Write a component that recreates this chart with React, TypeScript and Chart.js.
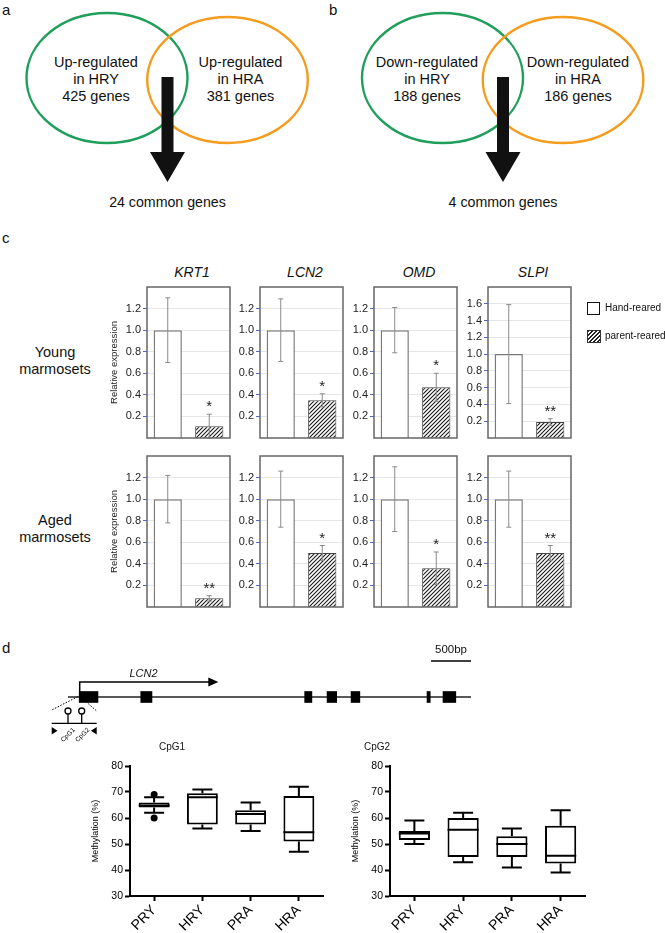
import React, { useEffect, useRef } from 'react';
import { Chart, registerables } from 'chart.js';

Chart.register(...registerables);

const FONT = '"Liberation Sans", Arial, Helvetica, sans-serif';
Chart.defaults.font.family = FONT;

// ---------- Panel a / b (Venn) ----------
const upCounts = [425, 381];
const upCommon = 24;
const downCounts = [188, 186];
const downCommon = 4;

// ---------- Panel c (qPCR relative expression) ----------
const genes = ['KRT1', 'LCN2', 'OMD', 'SLPI'];
const groups = ['Hand-reared', 'parent-reared'];
const rowLabels = [['Young', 'marmosets'], ['Aged', 'marmosets']];

const youngHand = [1.0, 1.0, 1.0, 1.0];
const youngHandErr = [0.3, 0.29, 0.21, 0.59];
const youngParent = [0.11, 0.35, 0.47, 0.19];
const youngParentErr = [0.11, 0.06, 0.13, 0.04];
const youngStars = ['*', '*', '*', '**'];
const youngMax = [1.4, 1.4, 1.4, 1.8];

const agedHand = [1.0, 1.0, 1.0, 1.0];
const agedHandErr = [0.22, 0.26, 0.3, 0.26];
const agedParent = [0.08, 0.5, 0.36, 0.5];
const agedParentErr = [0.025, 0.07, 0.15, 0.07];
const agedStars = ['**', '*', '*', '**'];
const agedMax = [1.4, 1.4, 1.4, 1.4];

// ---------- Panel d (LCN2 gene + methylation) ----------
const geneLengthBp = 5040;
const exonStart = [140, 910, 2960, 3240, 3540, 4490, 4690];
const exonEnd = [375, 1050, 3050, 3360, 3650, 4530, 4850];
const tssBp = 140;
const transcriptEndBp = 1880;
const scaleBarBp = [4540, 5040];

const boxCats = ['PRY', 'HRY', 'PRA', 'HRA'];
const cpg1Min = [62, 56, 55, 47];
const cpg1Q1 = [64, 57.5, 57.5, 51];
const cpg1Med = [64.8, 68, 61.5, 54.5];
const cpg1Q3 = [66, 69.5, 63, 68.5];
const cpg1Max = [68, 71, 66, 72];
const cpg1OutHigh = [69, null, null, null];
const cpg1OutLow = [60, null, null, null];

const cpg2Min = [50, 43, 41, 39];
const cpg2Q1 = [51.5, 45, 45, 42.5];
const cpg2Med = [54, 55.5, 50, 45.5];
const cpg2Q3 = [55, 60, 53, 57];
const cpg2Max = [59, 62, 56, 63];

// ---------- helpers ----------
function makeHatch(): CanvasPattern | string {
  const c = document.createElement('canvas');
  c.width = 4;
  c.height = 4;
  const g = c.getContext('2d');
  if (!g) return '#777';
  g.fillStyle = '#fff';
  g.fillRect(0, 0, 4, 4);
  g.strokeStyle = '#1a1a1a';
  g.lineWidth = 1.1;
  g.beginPath();
  g.moveTo(0, 4); g.lineTo(4, 0);
  g.moveTo(-1, 1); g.lineTo(1, -1);
  g.moveTo(3, 5); g.lineTo(5, 3);
  g.stroke();
  return g.createPattern(c, 'repeat') || '#777';
}

function ChartCanvas({ left, top, width, height, make }: any) {
  const ref = useRef<HTMLCanvasElement>(null);
  useEffect(() => {
    const chart = new Chart(ref.current as HTMLCanvasElement, make());
    return () => chart.destroy();
  }, []);
  return (
    <canvas
      ref={ref}
      width={width}
      height={height}
      style={{ position: 'absolute', left, top, width, height }}
    />
  );
}

function T({ x, y, s = 14, children, italic, anchor = 'middle', color = '#111', rotate }: any) {
  const tx = anchor === 'middle' ? '-50%' : anchor === 'end' ? '-100%' : '0';
  return (
    <div
      style={{
        position: 'absolute',
        left: x,
        top: y,
        fontSize: s,
        lineHeight: 1,
        whiteSpace: 'nowrap',
        fontStyle: italic ? 'italic' : 'normal',
        color,
        transform: `translate(${tx},-50%)${rotate ? ` rotate(${rotate}deg)` : ''}`,
      }}
    >
      {children}
    </div>
  );
}

// ---------- bar panel ----------
const panelPlugin = {
  id: 'panelDecor',
  afterDatasetsDraw(chart: any, _args: any, opts: any) {
    const { ctx, chartArea: a, scales } = chart;
    const y = scales.y;
    const meta = chart.getDatasetMeta(0);
    const vals = chart.data.datasets[0].data as number[];
    ctx.save();
    let starTop = 0;
    meta.data.forEach((bar: any, i: number) => {
      const v = vals[i];
      const e = opts.errors[i];
      const yt = y.getPixelForValue(v + e);
      const yb = y.getPixelForValue(Math.max(0, v - e));
      ctx.strokeStyle = '#8a8a8a';
      ctx.lineWidth = 1;
      ctx.beginPath();
      ctx.moveTo(bar.x, yt); ctx.lineTo(bar.x, yb);
      ctx.moveTo(bar.x - 2.5, yt); ctx.lineTo(bar.x + 2.5, yt);
      ctx.moveTo(bar.x - 2.5, yb); ctx.lineTo(bar.x + 2.5, yb);
      ctx.stroke();
      if (i === 1) starTop = yt;
    });
    const b1 = meta.data[1];
    ctx.fillStyle = '#222';
    ctx.font = `15px ${FONT}`;
    ctx.textAlign = 'center';
    ctx.textBaseline = 'alphabetic';
    ctx.fillText(opts.star, b1.x, starTop - 3);
    ctx.strokeStyle = '#666';
    ctx.lineWidth = 1.5;
    ctx.strokeRect(a.left, a.top, a.right - a.left, a.bottom - a.top);
    ctx.restore();
  },
};

function barConfig(gi: number, hand: number[], handErr: number[], parent: number[], parentErr: number[], stars: string[], maxes: number[]) {
  return () => {
    const max = maxes[gi];
    const withTitle = gi === 0;
    return {
      type: 'bar',
      data: {
        labels: groups,
        datasets: [
          {
            data: [hand[gi], parent[gi]],
            backgroundColor: ['#ffffff', makeHatch()],
            borderColor: ['#7a7a7a', '#444'],
            borderWidth: [1.5, 1],
            categoryPercentage: 1,
            barPercentage: 0.68,
          },
        ],
      },
      options: {
        animation: false,
        responsive: false,
        devicePixelRatio: 1,
        layout: { padding: { top: 10, bottom: 10, right: 6, left: 0 } },
        plugins: {
          legend: { display: false },
          tooltip: { enabled: false },
          panelDecor: { errors: [handErr[gi], parentErr[gi]], star: stars[gi] },
        },
        scales: {
          x: { display: false, offset: true },
          y: {
            min: 0,
            max,
            ticks: {
              stepSize: 0.2,
              padding: 2,
              color: '#222',
              font: { size: 11, family: FONT },
              callback: (v: any) => Number(v).toFixed(1),
            },
            grid: { color: '#e6e6e6', tickLength: 4, tickColor: '#5566cc', lineWidth: 1 },
            border: { display: false },
            afterBuildTicks: (s: any) => {
              s.ticks = s.ticks.filter((t: any) => t.value > 0.05 && t.value < max - 0.05);
            },
            afterFit: (s: any) => {
              s.width = withTitle ? 42 : 30;
            },
            title: withTitle
              ? {
                  display: true,
                  text: 'Relative expression',
                  color: '#222',
                  font: { size: 9.5, family: FONT },
                  padding: { top: 4, bottom: 0 },
                }
              : { display: false },
          },
        },
      },
      plugins: [panelPlugin],
    };
  };
}

// ---------- box plot ----------
const boxPlugin = {
  id: 'boxDecor',
  afterDatasetsDraw(chart: any, _args: any, opts: any) {
    const { ctx, scales } = chart;
    const y = scales.y;
    const meta = chart.getDatasetMeta(0);
    ctx.save();
    ctx.strokeStyle = '#000';
    ctx.lineWidth = 2;
    meta.data.forEach((bar: any, i: number) => {
      const x = bar.x;
      const hw = bar.width / 2;
      const cw = 10;
      const yMin = y.getPixelForValue(opts.min[i]);
      const yMax = y.getPixelForValue(opts.max[i]);
      const yQ1 = y.getPixelForValue(opts.q1[i]);
      const yQ3 = y.getPixelForValue(opts.q3[i]);
      const yMed = y.getPixelForValue(opts.med[i]);
      ctx.beginPath();
      ctx.moveTo(x, yQ3); ctx.lineTo(x, yMax);
      ctx.moveTo(x - cw, yMax); ctx.lineTo(x + cw, yMax);
      ctx.moveTo(x, yQ1); ctx.lineTo(x, yMin);
      ctx.moveTo(x - cw, yMin); ctx.lineTo(x + cw, yMin);
      ctx.moveTo(x - hw, yMed); ctx.lineTo(x + hw, yMed);
      ctx.stroke();
    });
    ctx.restore();
  },
};

function boxConfig(min: number[], q1: number[], med: number[], q3: number[], max: number[], outliers: (number | null)[][]) {
  return () => ({
    type: 'bar',
    data: {
      labels: boxCats,
      datasets: [
        {
          data: q1.map((v, i) => [v, q3[i]]),
          backgroundColor: '#ffffff',
          borderColor: '#000',
          borderWidth: 2,
          borderSkipped: false,
          categoryPercentage: 1,
          barPercentage: 0.64,
        },
        ...outliers.map((o) => ({
          type: 'line',
          data: o,
          showLine: false,
          pointRadius: 3.5,
          pointBackgroundColor: '#000',
          pointBorderWidth: 0,
        })),
      ],
    },
    options: {
      animation: false,
      responsive: false,
      devicePixelRatio: 1,
      layout: { padding: { top: 10, bottom: 0, right: 10, left: 0 } },
      plugins: {
        legend: { display: false },
        tooltip: { enabled: false },
        boxDecor: { min, q1, med, q3, max },
      },
      scales: {
        x: {
          offset: true,
          grid: { offset: false, drawOnChartArea: false, tickLength: 5, tickColor: '#000', tickWidth: 2 },
          border: { color: '#000', width: 2 },
          ticks: {
            autoSkip: false,
            maxRotation: 45,
            minRotation: 45,
            padding: 1,
            color: '#000',
            font: { size: 14, family: FONT },
          },
          afterFit: (s: any) => {
            s.height = 36;
          },
        },
        y: {
          min: 30,
          max: 80,
          ticks: { stepSize: 10, padding: 2, color: '#000', font: { size: 10.5, family: FONT } },
          grid: { drawOnChartArea: false, tickLength: 5, tickColor: '#000', tickWidth: 2 },
          border: { color: '#000', width: 2 },
          title: {
            display: true,
            text: 'Methylation (%)',
            color: '#000',
            font: { size: 9, family: FONT },
            padding: { top: 2, bottom: 0 },
          },
          afterFit: (s: any) => {
            s.width = 42;
          },
        },
      },
    },
    plugins: [boxPlugin],
  });
}

// ---------- gene diagram ----------
const genePlugin = {
  id: 'geneDecor',
  beforeDatasetsDraw(chart: any) {
    const { ctx, chartArea: a, scales } = chart;
    const x = scales.x;
    const px = (bp: number) => x.getPixelForValue(bp);
    const yc = (a.top + a.bottom) / 2;
    ctx.save();
    ctx.strokeStyle = '#222';
    ctx.fillStyle = '#000';
    ctx.lineWidth = 1.5;
    // gene body
    ctx.beginPath();
    ctx.moveTo(px(0), yc);
    ctx.lineTo(px(geneLengthBp), yc);
    ctx.stroke();
    // transcription start arrow
    const ty = yc - 15;
    ctx.strokeStyle = '#000';
    ctx.beginPath();
    ctx.moveTo(px(tssBp) + 0.5, yc - 5);
    ctx.lineTo(px(tssBp) + 0.5, ty);
    ctx.lineTo(px(transcriptEndBp) - 8, ty);
    ctx.stroke();
    ctx.beginPath();
    ctx.moveTo(px(transcriptEndBp), ty);
    ctx.lineTo(px(transcriptEndBp) - 10, ty - 4.5);
    ctx.lineTo(px(transcriptEndBp) - 10, ty + 4.5);
    ctx.closePath();
    ctx.fill();
    // scale bar
    ctx.beginPath();
    ctx.moveTo(px(scaleBarBp[0]), 23);
    ctx.lineTo(px(scaleBarBp[1]), 23);
    ctx.stroke();
    // inset (promoter region enlarged)
    ctx.lineWidth = 1;
    ctx.setLineDash([1.5, 1.5]);
    ctx.beginPath();
    ctx.moveTo(37.7, 58.7); ctx.lineTo(11.7, 72);
    ctx.moveTo(46, 63.7); ctx.lineTo(56.7, 73);
    ctx.stroke();
    ctx.setLineDash([]);
    ctx.lineWidth = 1.3;
    ctx.beginPath();
    ctx.moveTo(11.7, 85.3); ctx.lineTo(56.7, 85.3);
    ctx.moveTo(28, 76); ctx.lineTo(28, 85.3);
    ctx.moveTo(41.7, 76); ctx.lineTo(41.7, 85.3);
    ctx.stroke();
    ctx.fillStyle = '#fff';
    [28, 41.7].forEach((cx) => {
      ctx.beginPath();
      ctx.arc(cx, 73, 3, 0, Math.PI * 2);
      ctx.fill();
      ctx.stroke();
    });
    ctx.fillStyle = '#000';
    ctx.beginPath();
    ctx.moveTo(11.7, 89); ctx.lineTo(11.7, 96.5); ctx.lineTo(17.5, 92.8); ctx.closePath();
    ctx.moveTo(56.7, 89); ctx.lineTo(56.7, 96.5); ctx.lineTo(50.9, 92.8); ctx.closePath();
    ctx.fill();
    ctx.font = `6.5px ${FONT}`;
    ctx.textAlign = 'center';
    ctx.textBaseline = 'middle';
    [['CpG1', 28], ['CpG2', 42.5]].forEach(([t, cx]: any) => {
      ctx.save();
      ctx.translate(cx, 97);
      ctx.rotate(-Math.PI / 4);
      ctx.fillText(t, 0, 0);
      ctx.restore();
    });
    ctx.restore();
  },
};

function geneConfig() {
  return {
    type: 'bar',
    data: {
      labels: ['LCN2'],
      datasets: exonStart.map((s, i) => ({
        data: [[s, exonEnd[i]]],
        backgroundColor: '#000',
        borderWidth: 0,
        barThickness: 11,
        grouped: false,
      })),
    },
    options: {
      indexAxis: 'y',
      animation: false,
      responsive: false,
      devicePixelRatio: 1,
      layout: { padding: { top: 49, bottom: 43, left: 28, right: 9 } },
      plugins: { legend: { display: false }, tooltip: { enabled: false } },
      scales: {
        x: { type: 'linear', min: 0, max: geneLengthBp, display: false },
        y: { display: false },
      },
    },
    plugins: [genePlugin],
  };
}

// ---------- Venn ----------
function Venn({ dx, title, counts, common }: any) {
  const gx = 107 + dx;
  const ox = 227.5 + dx;
  const ax = 167.5 + dx;
  const word = title === 'up' ? 'Up-regulated' : 'Down-regulated';
  const lx = title === 'up' ? 96 : 427;
  const rx = title === 'up' ? 240.5 : 578;
  return (
    <>
      <svg style={{ position: 'absolute', left: 0, top: 0 }} width={665} height={190}>
        <ellipse cx={gx} cy={78} rx={80.5} ry={65} fill="none" stroke="#1f9f5b" strokeWidth={2.4} />
        <ellipse cx={ox} cy={80} rx={80.3} ry={63} fill="none" stroke="#f39c1e" strokeWidth={2.4} />
        <polygon
          points={`${ax - 6},77 ${ax + 6},77 ${ax + 6},152 ${ax + 17.5},152 ${ax},182 ${ax - 17.5},152 ${ax - 6},152`}
          fill="#111"
        />
      </svg>
      <T x={lx} y={61.7} s={14.5}>{word}</T>
      <T x={lx} y={79} s={14.5}>in HRY</T>
      <T x={lx} y={95.5} s={14.5}>{counts[0]} genes</T>
      <T x={rx} y={61.7} s={14.5}>{word}</T>
      <T x={rx} y={79} s={14.5}>in HRA</T>
      <T x={rx} y={95.5} s={14.5}>{counts[1]} genes</T>
      <T x={ax} y={202} s={14.2}>{common} common genes</T>
    </>
  );
}

export default function App() {
  const panelLefts = [147, 260, 374, 488];
  const rowTops = [287, 456];
  const rows = [
    { hand: youngHand, handErr: youngHandErr, parent: youngParent, parentErr: youngParentErr, stars: youngStars, max: youngMax },
    { hand: agedHand, handErr: agedHandErr, parent: agedParent, parentErr: agedParentErr, stars: agedStars, max: agedMax },
  ];
  return (
    <div
      style={{
        position: 'absolute',
        left: 0,
        top: 0,
        width: 665,
        height: 933,
        overflow: 'hidden',
        background: '#fff',
        fontFamily: FONT,
        color: '#111',
      }}
    >
      {/* panel letters */}
      <T x={2} y={9} s={15} anchor="start">a</T>
      <T x={329} y={9} s={15} anchor="start">b</T>
      <T x={2} y={237} s={15} anchor="start">c</T>
      <T x={2} y={647} s={15} anchor="start">d</T>

      <Venn dx={0} title="up" counts={upCounts} common={upCommon} />
      <Venn dx={335.5} title="down" counts={downCounts} common={downCommon} />

      {/* panel c */}
      {genes.map((g, gi) => (
        <T key={g} x={panelLefts[gi] + 45} y={272} s={14} italic>
          {g}
        </T>
      ))}
      {rowLabels.map((lab, ri) => (
        <React.Fragment key={ri}>
          <T x={55} y={ri === 0 ? 352 : 520} s={14.5}>{lab[0]}</T>
          <T x={55} y={ri === 0 ? 369 : 537} s={14.5}>{lab[1]}</T>
        </React.Fragment>
      ))}
      {rows.map((r, ri) =>
        genes.map((g, gi) => {
          const W = gi === 0 ? 42 : 30;
          return (
            <ChartCanvas
              key={`${ri}-${g}`}
              left={panelLefts[gi] - W}
              top={rowTops[ri] - 10}
              width={W + 83 + 6}
              height={151 + 20}
              make={barConfig(gi, r.hand, r.handErr, r.parent, r.parentErr, r.stars, r.max)}
            />
          );
        })
      )}
      {/* legend */}
      <div style={{ position: 'absolute', left: 587, top: 302, width: 11, height: 11, border: '1.3px solid #111', background: '#fff' }} />
      <T x={605} y={308} s={10} anchor="start">{groups[0]}</T>
      <div
        style={{
          position: 'absolute',
          left: 587,
          top: 330,
          width: 12,
          height: 11,
          border: '0.8px solid #333',
          background: 'repeating-linear-gradient(135deg, #222 0px, #222 1px, #fff 1px, #fff 2.8px)',
        }}
      />
      <T x={605} y={336} s={10} anchor="start">{groups[1]}</T>

      {/* panel d */}
      <T x={451} y={650} s={11.5}>500bp</T>
      <T x={143.5} y={673} s={11} italic>LCN2</T>
      <ChartCanvas left={40} top={638} width={440} height={112} make={geneConfig} />
      <T x={172} y={747} s={10}>CpG1</T>
      <T x={377} y={747} s={10}>CpG2</T>
      <ChartCanvas
        left={88}
        top={756}
        width={245}
        height={176}
        make={boxConfig(cpg1Min, cpg1Q1, cpg1Med, cpg1Q3, cpg1Max, [cpg1OutHigh, cpg1OutLow])}
      />
      <ChartCanvas
        left={348}
        top={756}
        width={247}
        height={176}
        make={boxConfig(cpg2Min, cpg2Q1, cpg2Med, cpg2Q3, cpg2Max, [])}
      />
    </div>
  );
}
